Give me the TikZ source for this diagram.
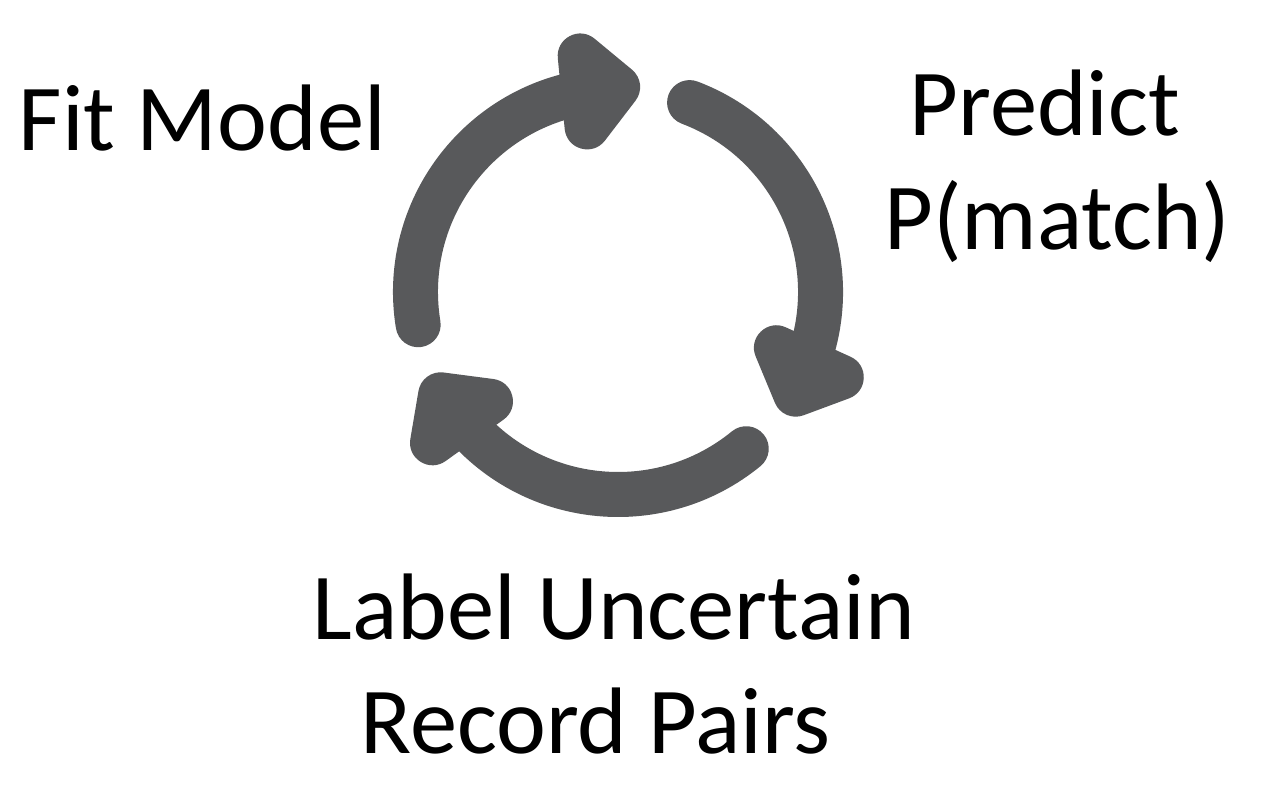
\documentclass[tikz,border=0pt]{standalone}
\usepackage{fontspec}
\setmainfont{Carlito}
\usetikzlibrary{positioning}
\definecolor{cyclegray}{RGB}{88,89,91}

\begin{document}
\begin{tikzpicture}[x=1pt,y=1pt,
  cyc/.style={draw=cyclegray,line width=45pt,line cap=round},
  cychead/.style={fill=cyclegray,draw=cyclegray,line width=45pt,line join=round},
  txt/.style={font=\fontsize{94.5}{114}\selectfont,inner sep=0pt,align=center}]
  \useasboundingbox (-618,-500) rectangle (650,292);
  % the three arrows of the cycle, turned by 120 degrees
  \foreach \r in {0,-120,-240}{
    \begin{scope}[rotate=\r]
      \draw[cyc] (189.3:202.5) arc[start angle=189.3,end angle=100,radius=202.5];
      \filldraw[cychead] (99.1:239) -- (90.1:205) -- (100.6:168) -- cycle;
    \end{scope}
  }
  \node[txt,anchor=base] (fit) at (-415.5,141) {Fit Model};
  \node[txt,anchor=base] (predict) at (439.5,42) {Predict\hspace*{0.27em}\\P(match)};
  \node[txt,anchor=base] (label) at (-4,-461) {Label Uncertain\\Record Pairs\hspace*{0.39em}};
\end{tikzpicture}
\end{document}
